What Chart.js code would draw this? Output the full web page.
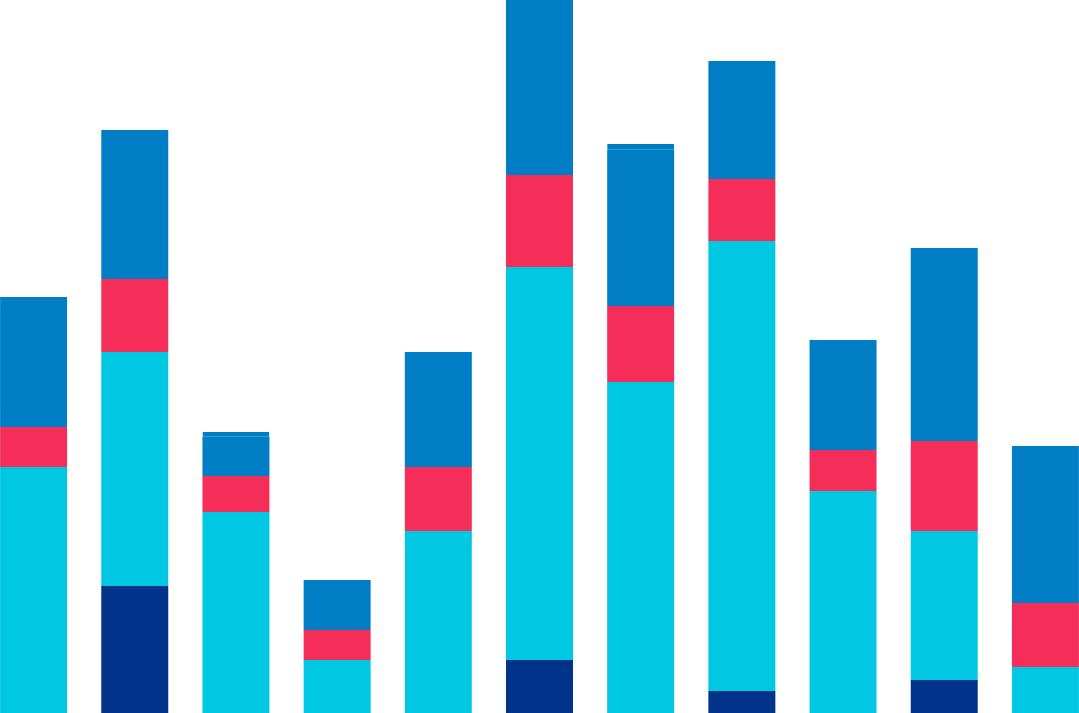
<!DOCTYPE html>
<html>
<head>
<meta charset="utf-8">
<script src="https://cdn.jsdelivr.net/npm/chart.js@4"></script>
<style>
  html, body { margin: 0; padding: 0; background: #fff; overflow: hidden; }
  #wrap { position: relative; left: -17px; width: 1113px; height: 713px; }
</style>
</head>
<body>
<div id="wrap"><canvas id="stackChart"></canvas></div>
<script>
const labels = ['1', '2', '3', '4', '5', '6', '7', '8', '9', '10', '11'];

// stacked values, bottom to top
const navy  = [0, 127, 0, 0, 0, 53, 0, 22, 0, 33, 0];
const cyan  = [246, 234, 201, 53, 182, 393, 331, 450, 222, 149, 46];
const red   = [40, 73, 36, 30, 64, 92, 76, 62, 41, 90, 64];
const blue  = [130, 149, 39, 50, 115, 175, 156, 118, 110, 193, 157];
const extra = [0, 0, 5, 0, 0, 0, 6, 0, 0, 0, 0];

const ctx = document.getElementById('stackChart').getContext('2d');
new Chart(ctx, {
  type: 'bar',
  data: {
    labels: labels,
    datasets: [
      { label: 'A', data: navy,  backgroundColor: '#003389' },
      { label: 'B', data: cyan,  backgroundColor: '#00C8E2' },
      { label: 'C', data: red,   backgroundColor: '#F42E58' },
      { label: 'D', data: blue,  backgroundColor: '#007EC5' },
      {
        label: 'E', data: extra, backgroundColor: '#007EC5',
        borderColor: '#3A9AD6',
        borderSkipped: false,
        // faint seam where this small segment sits on the blue one
        borderWidth: c => extra[c.dataIndex] > 0 ? { top: 0, left: 0, right: 0, bottom: 1 } : 0
      }
    ]
  },
  options: {
    responsive: true,
    maintainAspectRatio: false,
    animation: false,
    layout: { padding: 0 },
    datasets: {
      bar: { categoryPercentage: 1, barPercentage: 0.662, borderWidth: 0 }
    },
    plugins: {
      legend: { display: false },
      tooltip: { enabled: false }
    },
    scales: {
      x: { stacked: true, display: false },
      y: { stacked: true, display: false, min: 0, max: 713 }
    }
  }
});
</script>
</body>
</html>
